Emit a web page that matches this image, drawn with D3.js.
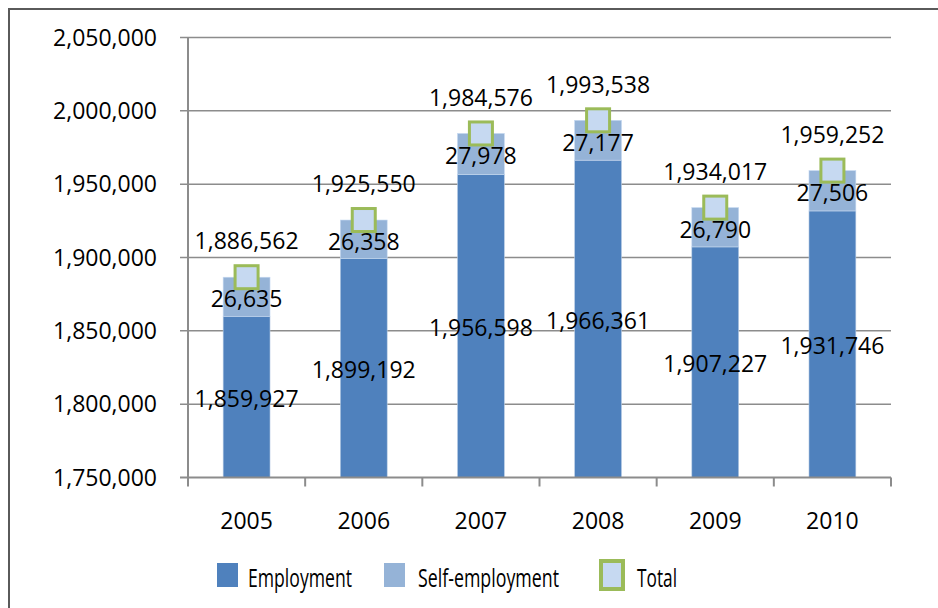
<!DOCTYPE html>
<html>
<head>
<meta charset="utf-8">
<style>
  body { margin: 0; background: #fff; }
  text { font-family: "Open Sans", sans-serif; fill: #000; }
  .grid line { stroke: #8c8c8c; stroke-width: 1.5px; }
  .axis-line { stroke: #8c8c8c; stroke-width: 2px; }
</style>
</head>
<body>
<script src="https://cdn.jsdelivr.net/npm/d3@7/dist/d3.min.js"></script>
<script>
// chart values
var years = ["2005", "2006", "2007", "2008", "2009", "2010"];
var employment = [1859927, 1899192, 1956598, 1966361, 1907227, 1931746];
var selfEmployment = [26635, 26358, 27978, 27177, 26790, 27506];
var totals = [1886562, 1925550, 1984576, 1993538, 1934017, 1959252];
var yTicks = [1750000, 1800000, 1850000, 1900000, 1950000, 2000000, 2050000];
var legendLabels = ["Employment", "Self-employment", "Total"];

var width = 938, height = 608;
var plotLeft = 188, plotRight = 891, plotTop = 37.5, plotBottom = 477.5;

var colEmp = "#4f81bd", colSelf = "#95b3d7", colTotFill = "#c6d9f1", colTotStroke = "#9bbb59";

var fmt = d3.format(",");

var svg = d3.select("body").append("svg")
    .attr("width", width)
    .attr("height", height);

// outer frame
svg.append("rect")
    .attr("x", 9).attr("y", 9)
    .attr("width", 960).attr("height", 640)
    .attr("fill", "none")
    .attr("stroke", "#5a5a5a")
    .attr("stroke-width", 2);

var y = d3.scaleLinear()
    .domain([yTicks[0], yTicks[yTicks.length - 1]])
    .range([plotBottom, plotTop]);

var x = d3.scaleBand()
    .domain(years)
    .range([plotLeft, plotRight])
    .paddingInner(0.6)
    .paddingOuter(0.3);

var step = x.step();

// gridlines
var grid = svg.append("g").attr("class", "grid");
grid.selectAll("line")
    .data(yTicks.slice(1))
    .enter().append("line")
    .attr("x1", plotLeft - 8)
    .attr("x2", plotRight)
    .attr("y1", function(d) { return y(d); })
    .attr("y2", function(d) { return y(d); });

// y tick labels
svg.append("g").selectAll("text")
    .data(yTicks)
    .enter().append("text")
    .attr("x", 157)
    .attr("y", function(d) { return y(d); })
    .attr("dy", "0.36em")
    .attr("text-anchor", "end")
    .style("font-size", "23px")
    .text(function(d) { return fmt(d); });

// bars
var rows = years.map(function(yr, i) {
    return { year: yr, emp: employment[i], self: selfEmployment[i], total: totals[i] };
});

var bars = svg.append("g");
bars.selectAll(".emp")
    .data(rows)
    .enter().append("rect")
    .attr("class", "emp")
    .attr("x", function(d) { return x(d.year); })
    .attr("width", x.bandwidth())
    .attr("y", function(d) { return y(d.emp); })
    .attr("height", function(d) { return y(yTicks[0]) - y(d.emp); })
    .attr("fill", colEmp)
    .attr("stroke", "#b9cde5")
    .attr("stroke-width", 0.6);

bars.selectAll(".self")
    .data(rows)
    .enter().append("rect")
    .attr("class", "self")
    .attr("x", function(d) { return x(d.year); })
    .attr("width", x.bandwidth())
    .attr("y", function(d) { return y(d.emp + d.self); })
    .attr("height", function(d) { return y(d.emp) - y(d.emp + d.self); })
    .attr("fill", colSelf)
    .attr("stroke", "#c6d9f1")
    .attr("stroke-width", 0.6);

// axes lines
svg.append("line").attr("class", "axis-line")
    .attr("x1", plotLeft).attr("x2", plotLeft)
    .attr("y1", plotTop).attr("y2", plotBottom);
svg.append("line").attr("class", "axis-line")
    .attr("x1", plotLeft - 8).attr("x2", plotRight)
    .attr("y1", plotBottom).attr("y2", plotBottom);

// x ticks at category boundaries
var bounds = years.map(function(yr) { return x(yr) - x.paddingOuter() * step; });
bounds.push(plotRight);
svg.append("g").selectAll("line")
    .data(bounds)
    .enter().append("line")
    .attr("class", "axis-line")
    .attr("x1", function(d) { return d; })
    .attr("x2", function(d) { return d; })
    .attr("y1", plotBottom)
    .attr("y2", plotBottom + 9);

// x labels
svg.append("g").selectAll("text")
    .data(years)
    .enter().append("text")
    .attr("x", function(d) { return x(d) + x.bandwidth() / 2; })
    .attr("y", 521)
    .attr("dy", "0.36em")
    .attr("text-anchor", "middle")
    .style("font-size", "23px")
    .text(function(d) { return d; });

// total markers
svg.append("g").selectAll("rect")
    .data(rows)
    .enter().append("rect")
    .attr("x", function(d) { return x(d.year) + x.bandwidth() / 2 - 11.5; })
    .attr("y", function(d) { return y(d.total) - 11.5; })
    .attr("width", 23)
    .attr("height", 23)
    .attr("fill", colTotFill)
    .attr("stroke", colTotStroke)
    .attr("stroke-width", 3);

// data labels
var labels = svg.append("g").style("font-size", "23px").attr("text-anchor", "middle");
labels.selectAll(".lemp")
    .data(rows)
    .enter().append("text")
    .attr("x", function(d) { return x(d.year) + x.bandwidth() / 2; })
    .attr("y", function(d) { return (y(yTicks[0]) + y(d.emp)) / 2 + 2; })
    .attr("dy", "0.36em")
    .text(function(d) { return fmt(d.emp); });

labels.selectAll(".lself")
    .data(rows)
    .enter().append("text")
    .attr("x", function(d) { return x(d.year) + x.bandwidth() / 2; })
    .attr("y", function(d) { return (y(d.emp) + y(d.emp + d.self)) / 2 + 2; })
    .attr("dy", "0.36em")
    .text(function(d) { return fmt(d.self); });

labels.selectAll(".ltot")
    .data(rows)
    .enter().append("text")
    .attr("x", function(d) { return x(d.year) + x.bandwidth() / 2; })
    .attr("y", function(d) { return y(d.total) - 36; })
    .attr("dy", "0.36em")
    .text(function(d) { return fmt(d.total); });

// legend
var legend = svg.append("g");
var legItems = [
    { label: legendLabels[0], x: 217, tx: 248, tw: 104 },
    { label: legendLabels[1], x: 384, tx: 418, tw: 141 },
    { label: legendLabels[2], x: 601, tx: 637, tw: 40 }
];
legItems.forEach(function(it, i) {
    if (i < 2) {
        legend.append("rect")
            .attr("x", it.x).attr("y", 563)
            .attr("width", 21).attr("height", 24)
            .attr("fill", i === 0 ? colEmp : colSelf);
    } else {
        legend.append("rect")
            .attr("x", it.x).attr("y", 561)
            .attr("width", 22).attr("height", 28)
            .attr("fill", colTotFill)
            .attr("stroke", colTotStroke)
            .attr("stroke-width", 4);
    }
    legend.append("text")
        .attr("x", it.tx).attr("y", 587)
        .attr("textLength", it.tw)
        .attr("lengthAdjust", "spacingAndGlyphs")
        .style("font-size", "25px")
        .text(it.label);
});
</script>
</body>
</html>
